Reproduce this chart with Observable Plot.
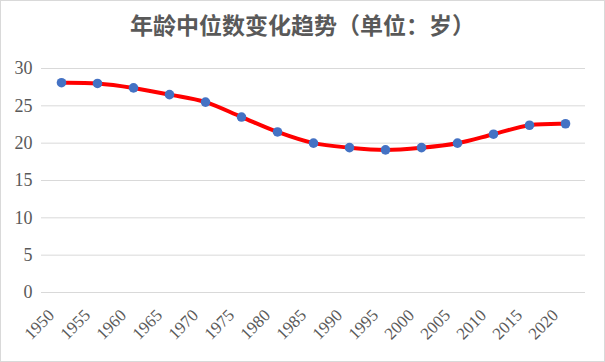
<!DOCTYPE html>
<html>
<head>
<meta charset="utf-8">
<script src="https://cdn.jsdelivr.net/npm/d3@7"></script>
<script src="https://cdn.jsdelivr.net/npm/@observablehq/plot@0.6"></script>
<style>
  html, body { margin: 0; padding: 0; background: #fff; }
  #chart { position: absolute; left: 0; top: 0; width: 603px; height: 360px; border: 1px solid #d9d9d9; background: #fff; overflow: hidden; }
  #title { height: 45px; line-height: 46px; text-align: center; font-family: "Noto Sans CJK SC", sans-serif; font-weight: bold; font-size: 23px; color: #595959; }
  #plot svg { display: block; }
</style>
</head>
<body>
<div id="chart">
  <div id="title">年龄中位数变化趋势（单位：岁）</div>
  <div id="plot"></div>
</div>
<script>
const years = ["1950","1955","1960","1965","1970","1975","1980","1985","1990","1995","2000","2005","2010","2015","2020"];
const medianAge = [28.1, 28.0, 27.4, 26.5, 25.5, 23.5, 21.5, 20.0, 19.4, 19.1, 19.4, 20.0, 21.2, 22.4, 22.6];
const yTicks = [0, 5, 10, 15, 20, 25, 30];

const data = years.map((y, i) => ({year: y, value: medianAge[i]}));

const chart = Plot.plot({
  width: 603,
  height: 315,
  marginTop: 22,
  marginBottom: 69,
  marginLeft: 40,
  marginRight: 19,
  style: {fontFamily: "'Liberation Serif', 'Times New Roman', serif", fontSize: "17px", color: "#595959", background: "#fff"},
  x: {type: "point", domain: years, padding: 0.5, label: null},
  y: {domain: [0, 30], ticks: yTicks, label: null},
  marks: [
    Plot.gridY(yTicks, {stroke: "#d9d9d9", strokeOpacity: 1, strokeWidth: 1}),
    Plot.axisY(yTicks, {tickSize: 0, tickPadding: 9, fill: "#595959", fontSize: 18, label: null}),
    Plot.axisX({tickSize: 0, tickPadding: 13, tickRotate: -45, dx: -10, dy: 7, fill: "#595959", fontSize: 17, label: null}),
    Plot.line(data, {x: "year", y: "value", stroke: "#ff0000", strokeWidth: 4, curve: "catmull-rom"}),
    Plot.dot(data, {x: "year", y: "value", r: 4.8, fill: "#4472c4", stroke: "none"})
  ]
});
document.getElementById("plot").appendChild(chart);
</script>
</body>
</html>
